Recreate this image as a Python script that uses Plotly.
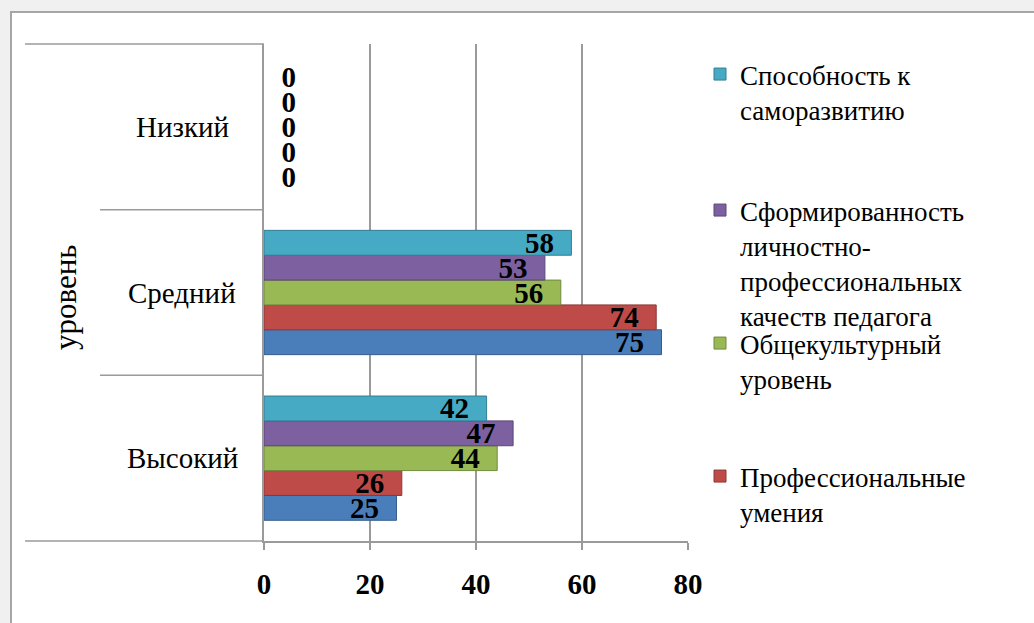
import plotly.graph_objects as go

# ---------------- data ----------------
categories = ["Высокий", "Средний", "Низкий"]
series_names = [
    "Ряд1",
    "Профессиональные<br>умения",
    "Общекультурный<br>уровень",
    "Сформированность<br>личностно-<br>профессиональных<br>качеств педагога",
    "Способность к<br>саморазвитию",
]
vals_blue = [25, 75, 0]
vals_red = [26, 74, 0]
vals_green = [44, 56, 0]
vals_purple = [47, 53, 0]
vals_cyan = [42, 58, 0]
x_ticks = [0, 20, 40, 60, 80]
axis_title = "уровень"

# ---------------- style ----------------
FONT = "Liberation Serif"
LBL = 29
fills = ["#4A7EBB", "#BE4B48", "#98B954", "#7D60A0", "#46AAC5"]
edges = ["#385D8A", "#8C3836", "#71893F", "#5C4776", "#357D91"]
legend_ids = [None, "legend4", "legend3", "legend2", "legend"]
legend_tops = [None, 452, 319, 186, 50]  # pixel tops

W, H = 1034, 623
L, R, T, B = 264, 688, 44, 541
PW, PH = R - L, B - T


def px_x(p):
    return (p - L) / PW


def px_y(p):
    return (B - p) / PH


all_vals = [vals_blue, vals_red, vals_green, vals_purple, vals_cyan]

fig = go.Figure()
for i, vals in enumerate(all_vals):
    texts = [f"{v}\u00a0\u00a0" if v else f"\u00a0\u00a0{v}" for v in vals]
    positions = ["inside" if v else "outside" for v in vals]
    kw = {}
    if legend_ids[i]:
        kw["legend"] = legend_ids[i]
    fig.add_trace(go.Bar(
        y=categories, x=vals, orientation="h", name=series_names[i],
        marker=dict(color=fills[i], line=dict(color=edges[i], width=[1 if v else 0 for v in vals])),
        text=texts, textposition=positions, insidetextanchor="end",
        textangle=0, constraintext="none", cliponaxis=False,
        textfont=dict(family=FONT, size=LBL, color="black", weight="bold"),
        showlegend=legend_ids[i] is not None,
        **kw,
    ))

GRID = "#9a9a9a"
layout = dict(
    width=W, height=H, autosize=False,
    margin=dict(l=L, r=W - R, t=T, b=H - B, pad=0),
    paper_bgcolor="#f0f0f0", plot_bgcolor="white",
    barmode="group", bargap=0.25, bargroupgap=0,
    uniformtext=dict(mode="show", minsize=LBL),
    font=dict(family=FONT, color="black"),
    xaxis=dict(range=[0, 80], tickvals=x_ticks, showgrid=True, gridcolor=GRID, gridwidth=1.5,
               ticks="outside", ticklen=7, tickcolor=GRID, tickwidth=1.5,
               showline=True, linecolor=GRID, linewidth=1.5, zeroline=False,
               tickfont=dict(family=FONT, size=29, color="black", weight="bold"),
               ticklabelstandoff=9),
    yaxis=dict(categoryorder="array", categoryarray=categories, range=[-0.5, 2.5],
               showticklabels=False, showgrid=False, showline=True, linecolor=GRID,
               linewidth=1.5, ticks="", zeroline=False),
)
for i in range(len(all_vals)):
    if legend_ids[i]:
        layout[legend_ids[i]] = dict(
            x=px_x(700), y=px_y(legend_tops[i]), xanchor="left", yanchor="top",
            bgcolor="rgba(0,0,0,0)", borderwidth=0, valign="top",
            font=dict(family=FONT, size=27, color="black"),
        )
fig.update_layout(**layout)

# chart frame
fig.add_shape(type="rect", xref="paper", yref="paper",
              x0=px_x(11), x1=px_x(1045), y0=px_y(12), y1=px_y(640),
              fillcolor="white", line=dict(color="#a6a6a6", width=2), layer="below")
# category axis box lines
fig.add_shape(type="line", xref="paper", yref="paper", x0=px_x(25), x1=0, y0=1, y1=1,
              line=dict(color=GRID, width=1.5))
fig.add_shape(type="line", xref="paper", yref="paper", x0=px_x(25), x1=0, y0=0, y1=0,
              line=dict(color=GRID, width=1.5))
for b in [0.5, 1.5]:
    fig.add_shape(type="line", xref="paper", yref="y", x0=px_x(100), x1=0, y0=b, y1=b,
                  line=dict(color=GRID, width=1.5))

# category labels
for c in categories:
    fig.add_annotation(x=px_x(182), xref="paper", y=c, yref="y", text=c, showarrow=False,
                       xanchor="center", yanchor="middle",
                       font=dict(family=FONT, size=29, color="black"))
# axis title
fig.add_annotation(x=px_x(65), xref="paper", y=px_y(298), yref="paper", text=axis_title,
                   showarrow=False, textangle=-90, xanchor="center", yanchor="middle",
                   font=dict(family=FONT, size=31, color="black"))

fig.write_html("out.html", config={"displayModeBar": False},
               post_script="document.body.style.margin='0';")
